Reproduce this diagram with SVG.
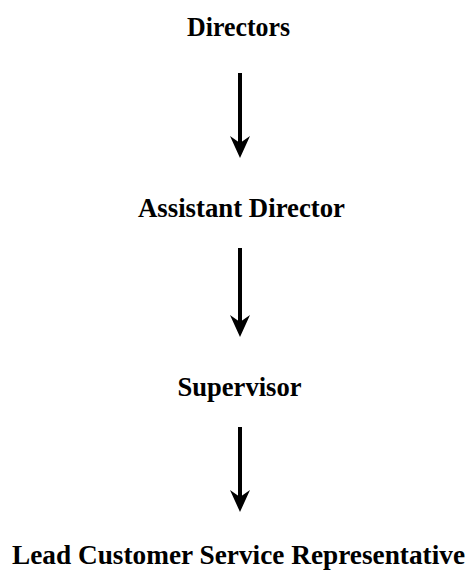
<svg xmlns="http://www.w3.org/2000/svg" width="468" height="570" viewBox="0 0 468 570">
  <style>
    .lbl { font-family: "Liberation Serif", "Times New Roman", serif; font-weight: bold; font-size: 27px; fill: #000; text-anchor: middle; }
    .conn { stroke: #000; stroke-width: 4; fill: none; }
  </style>
  <defs>
    <marker id="arrow" viewBox="0 0 22 20" refX="12" refY="10" markerWidth="22" markerHeight="20" markerUnits="userSpaceOnUse" orient="auto">
      <path d="M0,0 L22,10 L0,20 L7,10 Z" fill="#000"/>
    </marker>
  </defs>
  <rect width="468" height="570" fill="#fff"/>
  <g id="directors"><text class="lbl" x="238.5" y="36" textLength="103" lengthAdjust="spacingAndGlyphs">Directors</text></g>
  <g id="assistant-director"><text class="lbl" x="241.5" y="217" textLength="207" lengthAdjust="spacingAndGlyphs">Assistant Director</text></g>
  <g id="supervisor"><text class="lbl" x="239.5" y="396" textLength="124" lengthAdjust="spacingAndGlyphs">Supervisor</text></g>
  <g id="lead-csr"><text class="lbl" x="238.5" y="564" textLength="453" lengthAdjust="spacingAndGlyphs">Lead Customer Service Representative</text></g>
  <g id="connectors">
    <line class="conn" x1="240" y1="73" x2="240" y2="148" marker-end="url(#arrow)"/>
    <line class="conn" x1="240" y1="248" x2="240" y2="327" marker-end="url(#arrow)"/>
    <line class="conn" x1="240" y1="427" x2="240" y2="502" marker-end="url(#arrow)"/>
  </g>
</svg>
